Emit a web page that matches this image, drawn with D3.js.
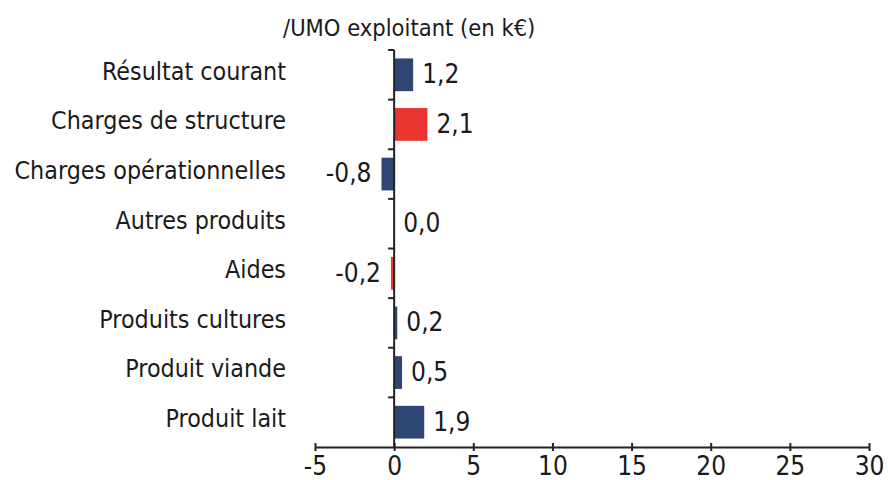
<!DOCTYPE html>
<html><head><meta charset="utf-8">
<script src="https://cdn.jsdelivr.net/npm/d3@7"></script>
<style>body{margin:0;background:#fff;} text{font-family:"DejaVu Sans Condensed","DejaVu Sans",sans-serif;fill:#1a1a1a;}</style>
</head><body>
<svg id="c" width="888" height="480"></svg>
<script>
const categories = ["Résultat courant","Charges de structure","Charges opérationnelles","Autres produits","Aides","Produits cultures","Produit viande","Produit lait"];
const values = [1.2, 2.1, -0.8, 0.0, -0.2, 0.2, 0.5, 1.9];
const labels = ["1,2","2,1","-0,8","0,0","-0,2","0,2","0,5","1,9"];
const colorGroup = ["blue","red","blue","blue","red","blue","blue","blue"];
const xTicks = [-5,0,5,10,15,20,25,30];
const title = "/UMO exploitant (en k€)";

const FONT = '"DejaVu Sans Condensed","DejaVu Sans",sans-serif';
const colors = {blue:"#2f4675", red:"#e8352f"};
const svg = d3.select("#c");
const x = d3.scaleLinear().domain([-5,30]).range([315,869]);
const y = d3.scaleBand().domain(categories).range([50,447]).paddingInner(0.34).paddingOuter(0.17);
const yb = d3.scaleBand().domain(categories).range([50,447]);

// bars
svg.selectAll("rect.bar").data(values).enter().append("rect")
  .attr("x",(d)=>x(Math.min(0,d)))
  .attr("y",(d,i)=>y(categories[i]))
  .attr("width",(d)=>Math.abs(x(d)-x(0)))
  .attr("height",y.bandwidth())
  .attr("fill",(d,i)=>colors[colorGroup[i]]);

// value labels
svg.selectAll("text.val").data(values).enter().append("text")
  .attr("x",(d)=> d<0 ? x(d)-10 : x(d)+9)
  .attr("y",(d,i)=>yb(categories[i])+yb.bandwidth()/2)
  .attr("dy","0.32em")
  .attr("text-anchor",(d)=> d<0?"end":"start")
  .attr("font-size",26)
  .text((d,i)=>labels[i]);

// category labels
svg.selectAll("text.cat").data(categories).enter().append("text")
  .attr("x",286)
  .attr("y",(d)=>yb(d)+yb.bandwidth()/2 - 4)
  .attr("dy","0.36em")
  .attr("text-anchor","end")
  .attr("font-size",24.8)
  .text(d=>d);

// y axis (at x=0)
const yAxisG = svg.append("g").attr("stroke","#222").attr("stroke-width",2);
yAxisG.append("line").attr("x1",x(0)).attr("x2",x(0)).attr("y1",50).attr("y2",447);
const bounds = categories.map(c=>yb(c));
yAxisG.selectAll("line.t").data(bounds).enter().append("line")
  .attr("x1",x(0)-6).attr("x2",x(0)).attr("y1",d=>d).attr("y2",d=>d);

// x axis
const xAxis = d3.axisBottom(x).tickValues(xTicks).tickSize(0).tickFormat(d=>String(d));
const gx = svg.append("g").attr("transform","translate(0,447)").call(xAxis);
gx.select(".domain").attr("stroke","#222").attr("stroke-width",2);
gx.selectAll(".tick text").attr("font-size",26).attr("dy","0.95em").attr("fill","#1a1a1a")
  .style("font-family",FONT);
gx.selectAll(".tick").append("line").attr("y1",-4).attr("y2",4).attr("stroke","#222").attr("stroke-width",2);

// title
svg.append("text").attr("x",283).attr("y",36).attr("font-size",23.5).text(title);
</script>
</body></html>
